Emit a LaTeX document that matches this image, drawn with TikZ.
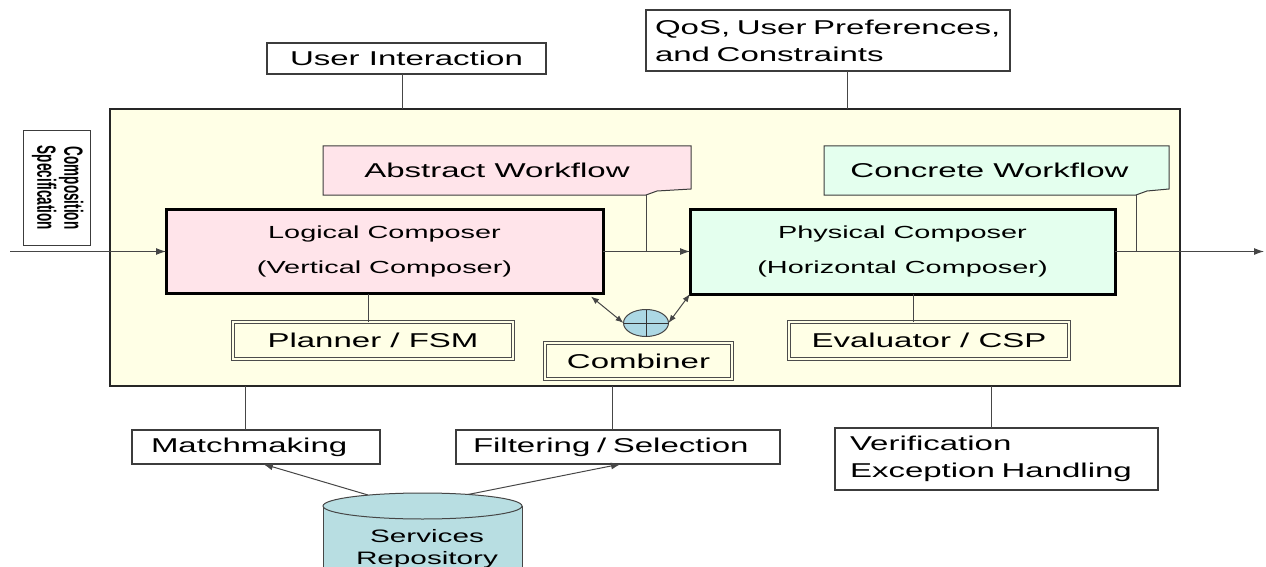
\documentclass[tikz,border=0pt]{standalone}
\usepackage{graphicx}
\usepackage{fontspec}
\setmainfont{Liberation Sans}[FakeStretch=1.65]
\newfontfamily\specfont{Liberation Sans}
\usetikzlibrary{calc,arrows.meta,shapes.geometric}

\definecolor{cream}{RGB}{255,255,230}
\definecolor{pinkfill}{RGB}{255,228,234}
\definecolor{mintfill}{RGB}{228,255,238}
\definecolor{bluefill}{RGB}{172,216,228}
\definecolor{repofill}{RGB}{184,222,226}
\definecolor{linegray}{RGB}{70,70,70}
\definecolor{boxgray}{RGB}{60,60,60}

\begin{document}
\begin{tikzpicture}[x=1pt, y=-1pt,
  every node/.style={inner sep=0pt, outer sep=0pt},
  conn/.style={draw=linegray, line width=1pt},
  arr/.style={conn, -{Latex[length=10pt,width=7pt]}},
  dblarr/.style={conn, {Latex[length=8pt,width=6pt]}-{Latex[length=8pt,width=6pt]}},
  body/.style={font=\fontsize{20}{27}\selectfont},
  plainbox/.style={rectangle, draw=boxgray, line width=1.3pt, fill=white, body},
  composer/.style={rectangle, draw=black, line width=3pt, align=center,
    font=\fontsize{17.5}{35}\selectfont},
  toolbox/.style={rectangle, draw=black!70, double=cream, double distance=2pt,
    line width=0.8pt, fill=cream, body},
  note/.style={draw=boxgray, line width=1pt},
]
% canvas
\fill[white] (0,0) rectangle (1266,567);
\useasboundingbox (0,0) rectangle (1266,567);
\clip (0,0) rectangle (1266,567);

% composition system frame
\node[rectangle, draw=black!85, line width=2pt, fill=cream,
      minimum width=1070, minimum height=277] (sys) at (645,247.5) {};

% input specification
\node[plainbox, line width=1pt, rotate=-90, minimum width=114, minimum height=67,
      font=\specfont\bfseries\fontsize{13.5}{13.5}\selectfont] (spec) at (56.5,188)
  {\scalebox{1}[1.95]{\begin{tabular}{@{}c@{}}Composition\\Specification\end{tabular}}};

% external inputs on top
\node[plainbox, minimum width=279, minimum height=31] (ui) at (406.5,58.5) {User Interaction};
\node[plainbox, text width=346pt, inner xsep=9pt, minimum height=61, align=left] (qos) at (828,40.5)
  {\mbox{QoS, User Preferences,}\\\mbox{and Constraints}};

\coordinate (uiFoot) at ($(ui.south)+(-4.5,0)$);
\draw[conn] (uiFoot) -- (uiFoot |- sys.north);
\coordinate (qosFoot) at ($(qos.south)+(19,0)$);
\draw[conn] (qosFoot) -- (qosFoot |- sys.north);

% workflow notes
\coordinate (awNW) at (323,146);
\coordinate (awSE) at (691,195);
\filldraw[note, fill=pinkfill] (awNW) -- (awNW -| awSE) -- ($(awSE)+(0,-6)$)
  -- ($(awSE)+(-34,-4)$) -- ($(awSE)+(-45,0)$) coordinate (awTail) -- (awNW |- awSE) -- cycle;
\node[body] (aw) at ($($(awNW)!0.5!(awSE)$)+(-10,0)$) {Abstract Workflow};

\coordinate (cwNW) at (824,146);
\coordinate (cwSE) at (1169,195);
\filldraw[note, fill=mintfill] (cwNW) -- (cwNW -| cwSE) -- ($(cwSE)+(0,-6)$)
  -- ($(cwSE)+(-22,-4)$) -- ($(cwSE)+(-33,0)$) coordinate (cwTail) -- (cwNW |- cwSE) -- cycle;
\node[body] (cw) at ($($(cwNW)!0.5!(cwSE)$)+(-7,0)$) {Concrete Workflow};

% composers
\node[composer, fill=pinkfill, minimum width=437, minimum height=84] (lc) at (384.5,251.5)
  {Logical Composer\\(Vertical Composer)};
\node[composer, fill=mintfill, minimum width=425, minimum height=85] (pc) at (902.5,251.5)
  {Physical Composer\\(Horizontal Composer)};

\coordinate (inL) at (10,251.5);
\coordinate (outR) at (1264,251.5);
\draw[arr] (inL) -- (lc.west);
\draw[arr] (lc.east) -- (pc.west);
\draw[arr] (pc.east) -- (outR);
\draw[conn] (awTail) -- (awTail |- lc.east);
\draw[conn] (cwTail) -- (cwTail |- pc.east);

% helper engines
\node[toolbox, minimum width=280, minimum height=37] (pl) at (373,340.5) {Planner / FSM};
\node[toolbox, minimum width=187, minimum height=36] (cb) at (638.5,361) {Combiner};
\node[toolbox, minimum width=280, minimum height=37] (ev) at (929,340.5) {Evaluator / CSP};

\coordinate (plTop) at ($(pl.north)+(-5,0)$);
\draw[conn] (plTop) -- (plTop |- lc.south);
\coordinate (evTop) at ($(ev.north)+(-16,0)$);
\draw[conn] (evTop) -- (evTop |- pc.south);

% combining operator
\node[ellipse, draw=linegray, line width=1pt, fill=bluefill,
      minimum width=45, minimum height=27] (cmb) at (646,323) {};
\draw[draw=black!80, line width=1pt] (cmb.north) -- (cmb.south) (cmb.west) -- (cmb.east);
\coordinate (lcTip) at ($(lc.south east)+(-12,3)$);
\draw[dblarr] (lcTip) -- (cmb.west);
\draw[dblarr] (pc.south west) -- (cmb.east);

% support services below
\node[plainbox, text width=210pt, inner xsep=19pt, minimum height=34, align=left] (mm) at (256,447)
  {Matchmaking};
\node[plainbox, text width=290pt, inner xsep=17pt, minimum height=34, align=left] (fs) at (618,447)
  {\mbox{Filtering / Selection}};
\node[plainbox, text width=293pt, inner xsep=15pt, minimum height=62, align=left] (vf) at (996.5,459)
  {\mbox{Verification}\\\mbox{Exception Handling}};

\coordinate (mmTop) at ($(mm.north)+(-11,0)$);
\draw[conn] (mmTop |- sys.south) -- (mmTop);
\coordinate (fsTop) at ($(fs.north)+(-6,0)$);
\draw[conn] (fsTop |- sys.south) -- (fsTop);
\coordinate (vfTop) at ($(vf.north)+(-5.5,0)$);
\draw[conn] (vfTop |- sys.south) -- (vfTop);

% services repository (cylinder)
\fill[repofill] (323,506) rectangle (522,600);
\draw[conn] (323,506) -- (323,600) (522,506) -- (522,600);
\filldraw[conn, fill=repofill] (422.5,506) ellipse [x radius=99.5, y radius=13];
\node[font=\fontsize{18}{22}\selectfont, align=center] (repo) at (427,549) {Services\\Repository};

\coordinate (repoL) at (368,495);
\coordinate (repoR) at (468,494.5);
\draw[arr] (repoL) -- ($(mm.south)+(7,0)$);
\draw[arr] (repoR) -- ($(fs.south)+(3,0)$);
\end{tikzpicture}
\end{document}
